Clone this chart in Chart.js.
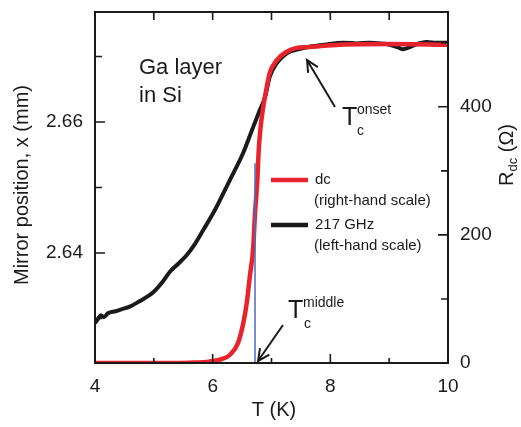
<!DOCTYPE html>
<html>
<head>
<meta charset="utf-8">
<script src="https://cdn.jsdelivr.net/npm/chart.js@4/dist/chart.umd.min.js"></script>
<style>
  html, body { margin: 0; padding: 0; background: #fff; }
  #c { display: block; }
</style>
</head>
<body>
<canvas id="c" width="521" height="427"></canvas>
<script>
// 217 GHz mirror position (left scale)
const tGhz   = [4.00, 4.05, 4.10, 4.15, 4.22, 4.35, 4.45, 4.59, 4.75, 4.99, 5.15, 5.27, 5.42, 5.56, 5.70, 5.84,
                6.04, 6.29, 6.52, 6.67, 6.80, 6.89, 6.97, 7.09, 7.26, 7.45, 7.65, 7.90, 8.22, 8.45, 8.67, 8.85,
                9.01, 9.15, 9.24, 9.34, 9.44, 9.64, 9.80, 10.0];
const mirror = [2.6293, 2.6299, 2.6305, 2.6302, 2.6308, 2.6311, 2.6314, 2.6318, 2.6326, 2.6340, 2.6356, 2.6371, 2.6384, 2.6397, 2.6414, 2.6435,
                2.6466, 2.6511, 2.6553, 2.6588, 2.6618, 2.6638, 2.6669, 2.6690, 2.6705, 2.6711, 2.6715, 2.6718, 2.6721, 2.6720, 2.6721, 2.6720,
                2.6718, 2.6714, 2.6711, 2.6714, 2.6718, 2.6722, 2.6721, 2.6721];

// dc resistance (right scale)
const tDc = [4.0, 5.0, 5.6, 5.9, 6.01, 6.15, 6.29, 6.43, 6.52, 6.58, 6.63, 6.69, 6.72, 6.76, 6.78, 6.81, 6.86, 6.92, 6.97, 7.09, 7.26, 7.43, 7.6, 8.16, 9.0, 10.0];
const rDc = [0, 0, 0.5, 1.5, 3, 6, 12.5, 31, 62, 94, 134, 181, 234, 286, 328, 364, 400, 431, 453, 473, 486, 492, 493, 497, 498, 497];

// T_c middle marker
const tMid = [6.72, 6.72];
const rMid = [0, 312];

const xTicks = [4, 6, 8, 10];
const xMinor = [5, 7, 9];
const leftTicks = [2.64, 2.66];
const leftMinor = [2.63, 2.65, 2.67];
const rightTicks = [0, 200, 400];
const rightMinor = [100, 300, 500];

const FONT = "'Liberation Sans', Arial, sans-serif";
const INK = '#1a1a1a';

const pts = (xs, ys) => xs.map((x, i) => ({ x, y: ys[i] }));

function arrow(ctx, x1, y1, x2, y2) {
  const a = Math.atan2(y2 - y1, x2 - x1), h = 13, w = 0.45;
  ctx.beginPath();
  ctx.moveTo(x1, y1); ctx.lineTo(x2, y2);
  ctx.moveTo(x2 - h * Math.cos(a - w), y2 - h * Math.sin(a - w));
  ctx.lineTo(x2, y2);
  ctx.lineTo(x2 - h * Math.cos(a + w), y2 - h * Math.sin(a + w));
  ctx.stroke();
}

// no extra room for half tick labels, the frame is placed by hand
function fixBox(s, prop, size) {
  s[prop] = size;
  s.paddingTop = 0; s.paddingBottom = 0; s.paddingLeft = 0; s.paddingRight = 0;
}

const decor = {
  id: 'decor',
  afterDraw(chart) {
    const { ctx, chartArea: a, scales } = chart;
    const { x, y, y2 } = scales;
    ctx.save();
    ctx.strokeStyle = INK;
    ctx.lineWidth = 2;
    ctx.strokeRect(a.left, a.top, a.right - a.left, a.bottom - a.top);

    // inward ticks
    ctx.lineWidth = 1.6;
    ctx.beginPath();
    const tx = (v, len) => {
      const p = x.getPixelForValue(v);
      ctx.moveTo(p, a.bottom); ctx.lineTo(p, a.bottom - len);
      ctx.moveTo(p, a.top); ctx.lineTo(p, a.top + 8);
    };
    xTicks.forEach(v => tx(v, 9));
    xMinor.forEach(v => tx(v, 5));
    const tl = (v, len) => { const p = y.getPixelForValue(v); ctx.moveTo(a.left, p); ctx.lineTo(a.left + len, p); };
    leftTicks.forEach(v => tl(v, 10));
    leftMinor.forEach(v => tl(v, 7));
    const tr = (v, len) => { const p = y2.getPixelForValue(v); ctx.moveTo(a.right, p); ctx.lineTo(a.right - len, p); };
    rightTicks.forEach(v => tr(v, 10));
    rightMinor.forEach(v => tr(v, 7));
    ctx.stroke();

    ctx.fillStyle = INK;
    ctx.textBaseline = 'middle';

    // axis titles
    ctx.font = '20px ' + FONT;
    ctx.textAlign = 'center';
    ctx.fillText('T (K)', 274, 410);
    ctx.save();
    ctx.translate(22, 185);
    ctx.rotate(-Math.PI / 2);
    ctx.fillText('Mirror position, x (mm)', 0, 0);
    ctx.restore();
    ctx.save();
    ctx.translate(507, 155);
    ctx.rotate(-Math.PI / 2);
    ctx.textAlign = 'left';
    ctx.font = '20px ' + FONT;
    const rw = ctx.measureText('R').width;
    ctx.font = '13px ' + FONT;
    const dw = ctx.measureText('dc').width;
    ctx.font = '20px ' + FONT;
    const sw = ctx.measureText(' (Ω)').width;
    let sx = -(rw + dw + sw) / 2;
    ctx.fillText('R', sx, 0);
    ctx.font = '13px ' + FONT;
    ctx.fillText('dc', sx + rw, 6);
    ctx.font = '20px ' + FONT;
    ctx.fillText(' (Ω)', sx + rw + dw, 0);
    ctx.restore();

    // sample label
    ctx.textAlign = 'left';
    ctx.font = '22px ' + FONT;
    ctx.fillText('Ga layer', 139, 68);
    ctx.fillText('in Si', 139, 96);

    // T_c labels
    ctx.font = '25px ' + FONT;
    ctx.fillText('T', 342, 118);
    ctx.fillText('T', 288, 311);
    ctx.font = '14px ' + FONT;
    ctx.fillText('onset', 357, 110);
    ctx.fillText('c', 357, 131);
    ctx.fillText('middle', 303, 303);
    ctx.fillText('c', 304, 324);

    ctx.lineWidth = 2;
    arrow(ctx, 335, 107, 307, 60);
    arrow(ctx, 283, 325, 258, 361);

    // legend
    ctx.font = '15px ' + FONT;
    ctx.lineWidth = 4.5;
    ctx.strokeStyle = '#e8232b';
    ctx.beginPath(); ctx.moveTo(271, 180); ctx.lineTo(308, 180); ctx.stroke();
    ctx.strokeStyle = INK;
    ctx.beginPath(); ctx.moveTo(271, 225); ctx.lineTo(308, 225); ctx.stroke();
    ctx.fillText('dc', 315, 180);
    ctx.fillText('(right-hand scale)', 314, 201);
    ctx.fillText('217 GHz', 315, 225);
    ctx.fillText('(left-hand scale)', 314, 246);
    ctx.restore();
  }
};

new Chart(document.getElementById('c'), {
  type: 'line',
  data: {
    datasets: [
      { label: 'T_c middle', data: pts(tMid, rMid), yAxisID: 'y2', borderColor: '#4a6cc0', borderWidth: 1.5, pointRadius: 0, order: 0 },
      { label: 'dc', data: pts(tDc, rDc), yAxisID: 'y2', borderColor: '#e8232b', borderWidth: 4.5, pointRadius: 0, tension: 0.3, cubicInterpolationMode: 'monotone', order: 1 },
      { label: '217 GHz', data: pts(tGhz, mirror), yAxisID: 'y', borderColor: INK, borderWidth: 4, pointRadius: 0, tension: 0.3, cubicInterpolationMode: 'monotone', order: 2 }
    ]
  },
  options: {
    responsive: false,
    devicePixelRatio: 1,
    animation: false,
    layout: { padding: { top: 12, left: 0, right: 0, bottom: 0 } },
    plugins: { legend: { display: false }, tooltip: { enabled: false } },
    scales: {
      x: {
        type: 'linear', min: 4, max: 10,
        grid: { display: false, drawTicks: false }, border: { display: false },
        ticks: { font: { family: FONT, size: 19 }, color: INK, padding: 12, autoSkip: false, maxRotation: 0 },
        afterBuildTicks: s => { s.ticks = xTicks.map(v => ({ value: v })); },
        afterFit: s => fixBox(s, 'height', 64)
      },
      y: {
        position: 'left', min: 2.6232, max: 2.6768,
        grid: { display: false, drawTicks: false }, border: { display: false },
        ticks: { font: { family: FONT, size: 19 }, color: INK, padding: 12, autoSkip: false, callback: v => v.toFixed(2) },
        afterBuildTicks: s => { s.ticks = leftTicks.map(v => ({ value: v })); },
        afterFit: s => fixBox(s, 'width', 95)
      },
      y2: {
        position: 'right', min: 0, max: 548,
        grid: { display: false, drawTicks: false }, border: { display: false },
        ticks: { font: { family: FONT, size: 19 }, color: INK, padding: 12, autoSkip: false, callback: v => String(v) },
        afterBuildTicks: s => { s.ticks = rightTicks.map(v => ({ value: v })); },
        afterFit: s => fixBox(s, 'width', 73)
      }
    }
  },
  plugins: [decor]
});
</script>
</body>
</html>
